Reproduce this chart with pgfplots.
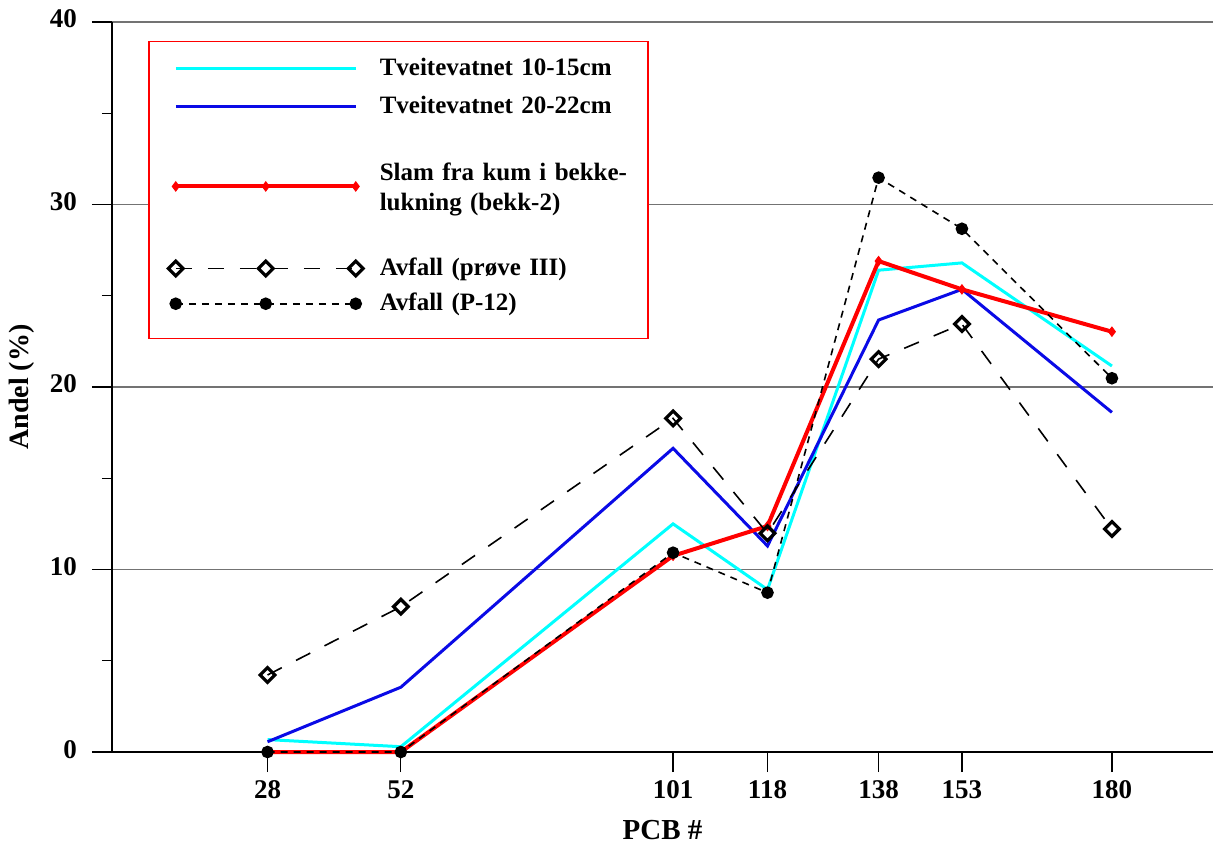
\documentclass[border=0pt]{standalone}
\usepackage{pgfplots}
\pgfplotsset{compat=1.18}
\usepackage{fontspec}
\setmainfont{Liberation Serif}
\definecolor{pcyan}{RGB}{0,255,255}
\definecolor{pblue}{RGB}{10,10,230}
\definecolor{pred}{RGB}{255,0,0}
\pgfplotsset{
  redleg/.style={legend image code/.code={\draw[##1] plot coordinates {(0pt,-2.75pt) (45pt,-2.75pt) (90pt,-2.75pt)}; \path (-12.5pt,-2.75pt) (101pt,-2.75pt);}},
}
\begin{document}
\begin{tikzpicture}
\useasboundingbox (-56pt,-46.5pt) rectangle (550.5pt,376pt);
\begin{axis}[
  at={(0pt,0pt)}, anchor=south west,
  scale only axis, width=550.5pt, height=365pt,
  xmin=0, xmax=198.2, ymin=0, ymax=40,
  clip=false,
  axis x line*=bottom, axis y line*=left,
  axis line style={black, line width=0.8pt},
  xtick={28,52,101,118,138,153,180},
  ytick={0,10,20,30,40},
  minor ytick={5,15,25,35},
  tick align=outside,
  major tick length=10pt, minor tick length=5pt,
  tick style={black, line width=0.6pt},
  ymajorgrids, grid style={black!55, line width=0.6pt},
  /pgf/number format/assume math mode=true,
  typeset ticklabels with strut,
  ticklabel style={font=\fontsize{13.5}{15}\selectfont\bfseries},
  yticklabel style={xshift=-4pt},
  xticklabel style={yshift=1pt},
  xlabel={PCB \#}, ylabel={Andel (\%)},
  every axis x label/.style={at={(axis description cs:0.5,0)}, anchor=center, yshift=-39pt, font=\fontsize{14.5}{16}\selectfont\bfseries},
  every axis y label/.style={at={(axis description cs:0,0.5)}, anchor=center, xshift=-45pt, rotate=90, font=\fontsize{14}{16}\selectfont\bfseries},
  legend style={at={(axis description cs:0.0327,0.974)}, anchor=north west, draw=pred, line width=0.75pt, inner sep=0pt,
    font=\fontsize{12.5}{15}\selectfont\bfseries,
    cells={anchor=base west},
    nodes={inner sep=0pt, text width=134pt, align=left}},
  legend image code/.code={\draw[#1] plot coordinates {(0pt,3.6pt) (45pt,3.6pt) (90pt,3.6pt)}; \path (-12.5pt,3.6pt) (101pt,3.6pt);},
]
\addplot[pcyan, line width=1.5pt] coordinates {(28,0.68)(52,0.29)(101,12.5)(118,8.9)(138,26.4)(153,26.8)(180,21.15)};
\addlegendentry[anchor=base west, text height=16.95pt, text depth=4pt]{Tveitevatnet 10-15cm}
\addplot[pblue, line width=1.5pt] coordinates {(28,0.56)(52,3.55)(101,16.64)(118,11.29)(138,23.67)(153,25.35)(180,18.61)};
\addlegendentry[anchor=base west, text height=15pt, text depth=4pt]{Tveitevatnet 20-22cm}
\addplot[pred, line width=2pt, mark=diamond*, mark size=2.3pt, mark options={solid, fill=pred, line width=0.5pt}, redleg]
  coordinates {(28,0)(52,0)(101,10.75)(118,12.38)(138,26.9)(153,25.35)(180,23.03)};
\addlegendentry[anchor=base west, text height=29.65pt, text depth=22pt]{Slam fra kum i bekke-\\lukning (bekk-2)}
\addplot[black, line width=0.8pt, dash pattern=on 8pt off 8pt, mark=square, mark size=2.6pt, mark options={solid, rotate=45, fill=white, line width=1.6pt}]
  coordinates {(28,4.22)(52,7.96)(101,18.28)(118,11.98)(138,21.53)(153,23.45)(180,12.22)};
\addlegendentry[anchor=base west, text height=25.35pt, text depth=4pt]{Avfall (prøve III)}
\addplot[black, line width=0.8pt, dash pattern=on 3.5pt off 3pt, mark=*, mark size=2.75pt, mark options={solid, fill=black}]
  coordinates {(28,0)(52,0)(101,10.92)(118,8.73)(138,31.47)(153,28.67)(180,20.48)};
\addlegendentry[anchor=base west, text height=13.65pt, text depth=13.9pt]{Avfall (P-12)}
\end{axis}
\end{tikzpicture}
\end{document}
